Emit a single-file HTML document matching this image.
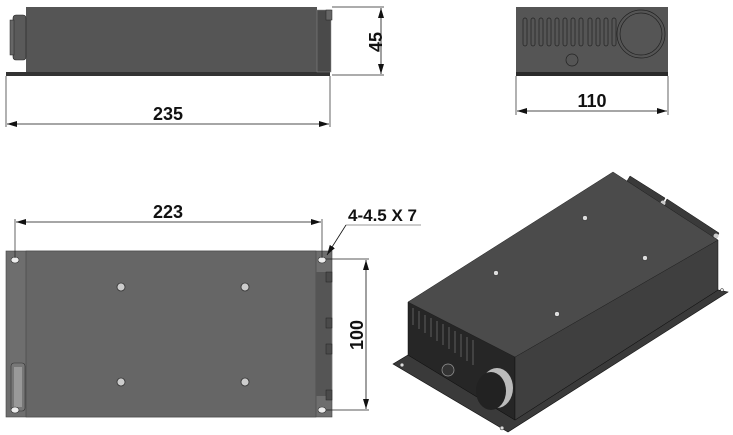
<!DOCTYPE html>
<html><head><meta charset="utf-8"><style>
html,body{margin:0;padding:0;background:#fff;}
svg{display:block;}
text{font-family:"Liberation Sans",Arial,sans-serif;font-weight:bold;fill:#111;}
</style></head><body>
<svg width="733" height="435" viewBox="0 0 733 435" xmlns="http://www.w3.org/2000/svg">
<defs>
<marker id="a" markerWidth="10" markerHeight="6" refX="10" refY="3" orient="auto-start-reverse" markerUnits="userSpaceOnUse">
<path d="M0,0 L10,3 L0,6 z" fill="#111"/></marker>
</defs>
<!-- Side view -->
<rect x="6" y="72" width="324" height="4" fill="#333"/>
<rect x="26" y="7" width="291" height="65" fill="#555"/>
<rect x="317" y="10" width="14" height="62" fill="#4a4a4a" stroke="#888" stroke-width="0.5"/>
<rect x="326" y="10" width="6" height="10" fill="#666" stroke="#222" stroke-width="0.5"/>
<rect x="13" y="15" width="13" height="45" rx="3" fill="#5a5a5a" stroke="#222" stroke-width="0.6"/>
<rect x="10" y="20" width="4" height="35" fill="#666" stroke="#222" stroke-width="0.5"/>
<line x1="332" y1="7" x2="384" y2="7" stroke="#222" stroke-width="0.7"/>
<line x1="332" y1="75" x2="384" y2="75" stroke="#222" stroke-width="0.7"/>
<line x1="381" y1="8" x2="381" y2="74" stroke="#111" stroke-width="0.8" marker-start="url(#a)" marker-end="url(#a)"/>
<text x="0" y="0" font-size="18" transform="translate(382,42) rotate(-90)" text-anchor="middle">45</text>
<line x1="6" y1="76" x2="6" y2="127" stroke="#222" stroke-width="0.7"/>
<line x1="330" y1="76" x2="330" y2="127" stroke="#222" stroke-width="0.7"/>
<line x1="7" y1="124" x2="329" y2="124" stroke="#111" stroke-width="0.8" marker-start="url(#a)" marker-end="url(#a)"/>
<text x="168" y="120" font-size="18" text-anchor="middle">235</text>
<!-- End view -->
<rect x="516" y="7" width="152" height="65" fill="#555"/>
<rect x="516" y="72" width="152" height="4" fill="#2a2a2a"/>
<g fill="none" stroke="#222" stroke-width="0.7">
<rect x="523" y="18" width="4" height="28" rx="2"/><rect x="531" y="18" width="4" height="28" rx="2"/>
<rect x="539" y="18" width="4" height="28" rx="2"/><rect x="547" y="18" width="4" height="28" rx="2"/>
<rect x="555" y="18" width="4" height="28" rx="2"/><rect x="563" y="18" width="4" height="28" rx="2"/>
<rect x="571" y="18" width="4" height="28" rx="2"/><rect x="579" y="18" width="4" height="28" rx="2"/>
<rect x="588" y="18" width="4" height="28" rx="2"/><rect x="596" y="18" width="4" height="28" rx="2"/>
<rect x="604" y="18" width="4" height="28" rx="2"/><rect x="612" y="18" width="4" height="28" rx="2"/>
<circle cx="641" cy="34" r="24"/><circle cx="641" cy="34" r="21"/>
<circle cx="572" cy="60" r="6"/>
</g>
<line x1="516" y1="76" x2="516" y2="115" stroke="#222" stroke-width="0.7"/>
<line x1="668" y1="76" x2="668" y2="115" stroke="#222" stroke-width="0.7"/>
<line x1="517" y1="111" x2="667" y2="111" stroke="#111" stroke-width="0.8" marker-start="url(#a)" marker-end="url(#a)"/>
<text x="592" y="107" font-size="18" text-anchor="middle">110</text>
<!-- Top view -->
<rect x="6" y="251" width="326" height="166" fill="#6e6e6e" stroke="#444" stroke-width="0.6"/>
<rect x="26" y="251" width="290" height="166" fill="#666" stroke="#444" stroke-width="0.6"/>
<rect x="316" y="272" width="15" height="124" fill="#555"/>
<g fill="#4a4a4a" stroke="#222" stroke-width="0.5">
<rect x="326" y="272" width="6" height="10"/><rect x="326" y="318" width="6" height="10"/><rect x="326" y="344" width="6" height="10"/><rect x="326" y="390" width="6" height="10"/>
</g>
<rect x="11" y="363" width="14" height="48" rx="3" fill="#777" stroke="#333" stroke-width="0.6"/>
<rect x="14" y="367" width="8" height="40" fill="#999"/>
<g fill="#eee" stroke="#333" stroke-width="0.6">
<ellipse cx="15" cy="260" rx="4" ry="3"/><ellipse cx="15" cy="410" rx="4" ry="3"/>
<ellipse cx="322" cy="260" rx="4" ry="3"/><ellipse cx="322" cy="410" rx="4" ry="3"/>
</g>
<g fill="#ccc" stroke="#333" stroke-width="0.8">
<circle cx="121" cy="287" r="4"/><circle cx="245" cy="287" r="4"/>
<circle cx="121" cy="382" r="4"/><circle cx="245" cy="382" r="4"/>
</g>
<line x1="15" y1="258" x2="15" y2="219" stroke="#222" stroke-width="0.7"/>
<line x1="322" y1="258" x2="322" y2="219" stroke="#222" stroke-width="0.7"/>
<line x1="16" y1="222" x2="321" y2="222" stroke="#111" stroke-width="0.8" marker-start="url(#a)" marker-end="url(#a)"/>
<text x="168" y="218" font-size="18" text-anchor="middle">223</text>
<line x1="326" y1="259" x2="369" y2="259" stroke="#222" stroke-width="0.7"/>
<line x1="326" y1="410" x2="369" y2="410" stroke="#222" stroke-width="0.7"/>
<line x1="366" y1="260" x2="366" y2="409" stroke="#111" stroke-width="0.8" marker-start="url(#a)" marker-end="url(#a)"/>
<text x="0" y="0" font-size="18" transform="translate(363,335) rotate(-90)" text-anchor="middle">100</text>
<text x="348" y="221" font-size="17">4-4.5 X 7</text>
<line x1="346" y1="225" x2="421" y2="225" stroke="#777" stroke-width="0.8"/>
<line x1="346" y1="225" x2="327" y2="255" stroke="#111" stroke-width="0.8" marker-end="url(#a)"/>
<!-- Iso view -->
<polygon points="393,364 408,355 515,420 718,290 728,292 508,432" fill="#3a3a3a" stroke="#111" stroke-width="0.6"/>
<g fill="#3a3a3a" stroke="#111" stroke-width="0.5">
<polygon points="627,181 662,204 665,198 630,176"/>
<polygon points="664,205 716,239 719,233 667,199"/>
</g>
<g fill="#ccc"><circle cx="663" cy="203" r="2.5"/><circle cx="716" cy="236" r="2.5"/></g>
<polygon points="408,302 515,357 515,420 408,355" fill="#262626" stroke="#111" stroke-width="0.5"/>
<polygon points="515,357 718,240 718,290 515,420" fill="#3f3f3f" stroke="#111" stroke-width="0.5"/>
<polygon points="408,302 613,172 718,240 515,357" fill="#4b4b4b" stroke="#222" stroke-width="0.5"/>
<g stroke="#555" stroke-width="1.2">
<line x1="413" y1="308" x2="413" y2="325"/><line x1="419" y1="311" x2="419" y2="329"/><line x1="425" y1="315" x2="425" y2="333"/>
<line x1="431" y1="318" x2="431" y2="337"/><line x1="437" y1="321" x2="437" y2="341"/><line x1="443" y1="324" x2="443" y2="345"/>
<line x1="449" y1="327" x2="449" y2="349"/><line x1="455" y1="331" x2="455" y2="353"/><line x1="461" y1="334" x2="461" y2="357"/>
<line x1="467" y1="337" x2="467" y2="361"/><line x1="473" y1="340" x2="473" y2="365"/>
</g>
<circle cx="448" cy="370" r="6" fill="#333" stroke="#999" stroke-width="0.7"/>
<ellipse cx="497" cy="388" rx="16" ry="20" fill="#bbb"/>
<ellipse cx="491" cy="391" rx="15" ry="19" fill="#222"/>
<g fill="#ddd" stroke="#222" stroke-width="0.5">
<circle cx="496" cy="273" r="2.5"/><circle cx="585" cy="218" r="2.5"/><circle cx="645" cy="258" r="2.5"/><circle cx="557" cy="314" r="2.5"/>
<circle cx="402" cy="365" r="2"/><circle cx="502" cy="428" r="2"/><circle cx="722" cy="290" r="1.5"/>
</g>
</svg>
</body></html>
